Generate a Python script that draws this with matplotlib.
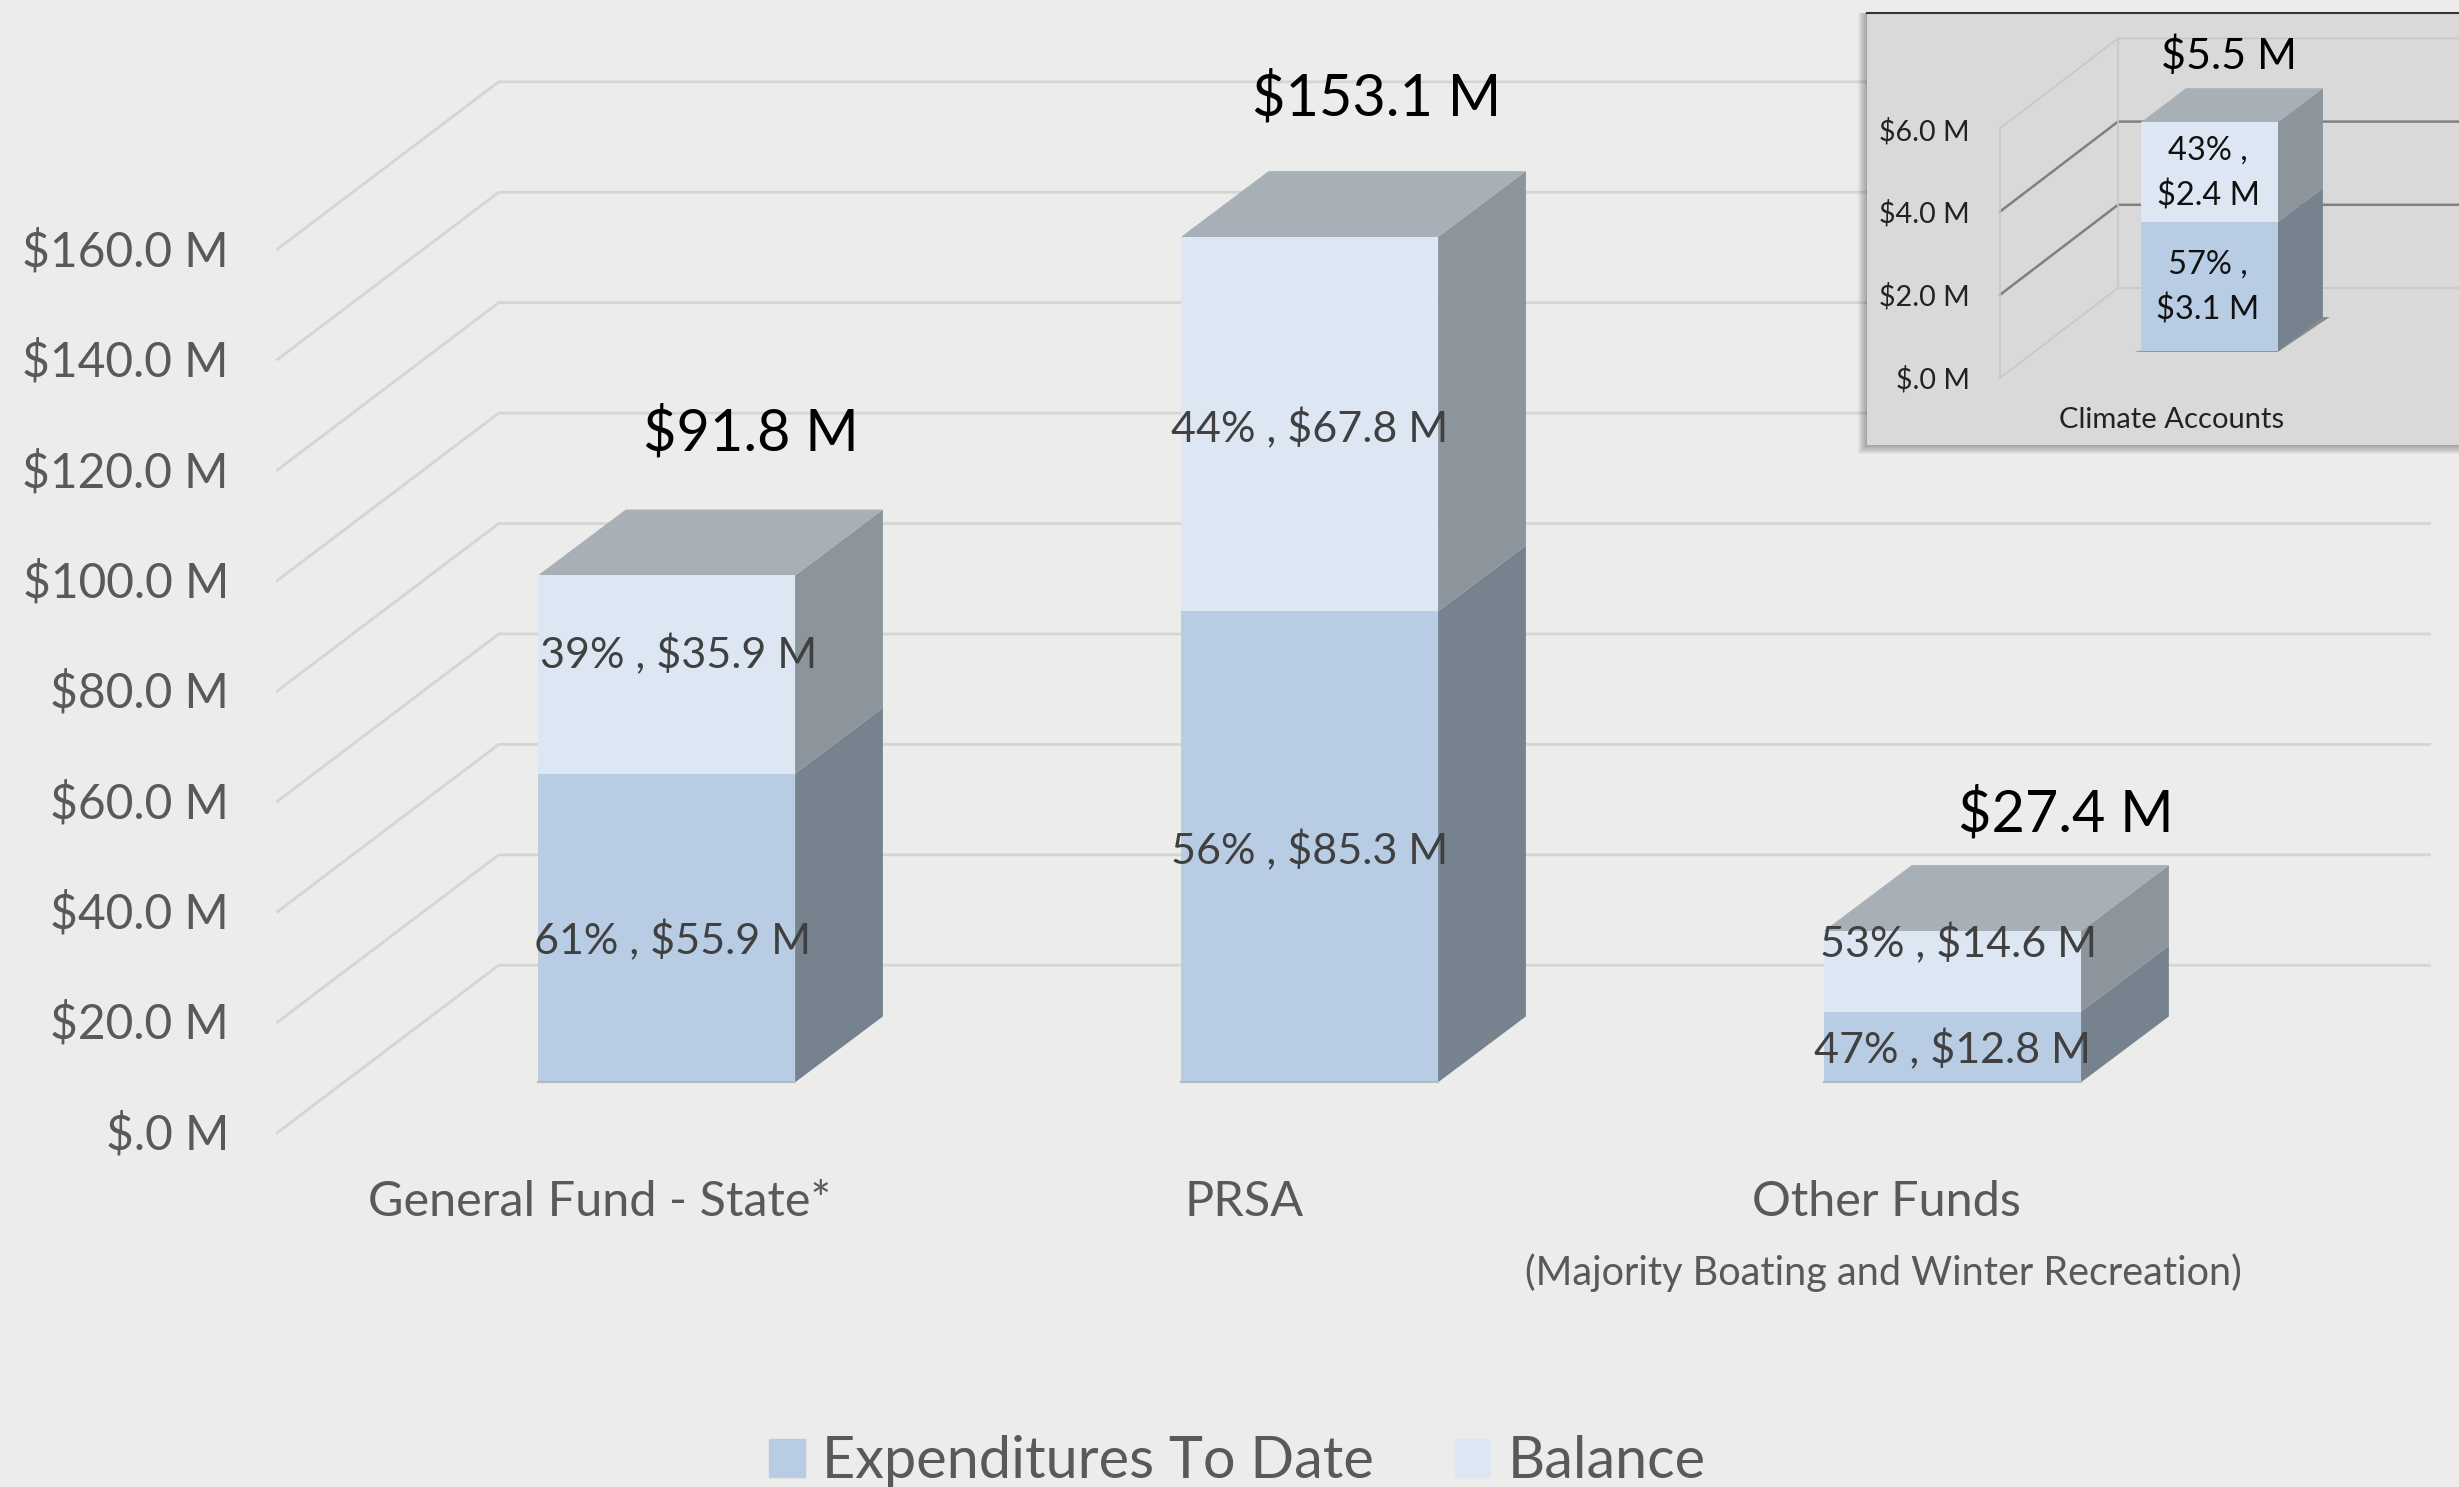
import matplotlib
matplotlib.use('Agg')
import matplotlib.pyplot as plt
from matplotlib.patches import Rectangle, Patch

W, H = 2459, 1487
S = W / 1568.0

categories = ['General Fund - State*', 'PRSA', 'Other Funds']
subcategory = '(Majority Boating and Winter Recreation)'
spent = [55.9, 85.3, 12.8]
balance = [35.9, 67.8, 14.6]
spent_pct = [61, 56, 47]
balance_pct = [39, 44, 53]
totals = [91.8, 153.1, 27.4]
ticks = [0, 20, 40, 60, 80, 100, 120, 140, 160]

climate_name = 'Climate Accounts'
climate_spent = [3.1]
climate_balance = [2.4]
climate_spent_pct = [57]
climate_balance_pct = [43]
climate_total = [5.5]
climate_ticks = [0, 2, 4, 6]

legend_names = ['Expenditures To Date', 'Balance']

BG = '#ECECEA'
C_SPENT, C_BAL = '#B8CCE4', '#DDE7F3'
C_SIDE1, C_SIDE2, C_TOP = '#76838F', '#8C949C', '#A7AFB7'

plt.rc('font', family='Lato')
fig = plt.figure(figsize=(W / 100, H / 100), dpi=100, facecolor=BG)


def txt(x, y, s, size, color='#595959', ha='center', **kw):
    return fig.text(x * S / W, 1 - (y + 1.5) * S / H, s, fontsize=size, color=color,
                    ha=ha, va='center', **kw)


def draw_bar(ax, x, low, high, width, dx, dy, front, side, zorder=3):
    ax.bar(x, high - low, width, bottom=low, color=front, zorder=zorder + 1,
           linewidth=0)
    r = x + width / 2
    ax.fill([r, r + dx, r + dx, r], [low, low + dy, high + dy, high],
            color=side, lw=0, zorder=zorder)


def draw_top(ax, x, top, width, dx, dy, zorder=3):
    l, r = x - width / 2, x + width / 2
    ax.fill([l, r, r + dx, l + dx], [top, top, top + dy, top + dy],
            color=C_TOP, lw=0, zorder=zorder)


# Main chart, one x unit = spacing between bars
ax = fig.add_axes([0, 0, 1, 1])
ax.set_xlim(-425 / 410, (1568 - 425) / 410)
ax.set_ylim(-(948 - 690) / 3.52, 690 / 3.52)
ax.axis('off')

bar_w = 0.4
bar_dx = 56 / 410
bar_dy = 42 / 3.52
wall_l, wall_b, wall_r = -0.605, -0.261, 2.742
wall_front0, wall_back0 = -9.09, 21.2

for t in ticks:
    ax.plot([wall_l, wall_b, wall_r], [wall_front0 + t, wall_back0 + t, wall_back0 + t],
            color='#D5D5D3', lw=2.0, zorder=1, solid_joinstyle='miter')

for i in range(len(categories)):
    draw_bar(ax, i, 0, spent[i], bar_w, bar_dx, bar_dy, C_SPENT, C_SIDE1)
    draw_bar(ax, i, spent[i], spent[i] + balance[i], bar_w, bar_dx, bar_dy, C_BAL, C_SIDE2)
    draw_top(ax, i, spent[i] + balance[i], bar_w, bar_dx, bar_dy)
    ax.plot([i - bar_w / 2, i + bar_w / 2], [0, 0], color='#B5BAC0', lw=1.5, zorder=5)

for t, y in zip(ticks, [722, 651, 581, 511, 440, 370, 300, 229, 159]):
    txt(146, y, f'${t:.1f} M' if t else '$.0 M', 34.5, ha='right')

for name, x in zip(categories, [382, 793, 1203]):
    txt(x, 765, name, 35)
txt(1201, 810, subcategory, 28.5)

for v, x, y in zip(totals, [479, 878, 1317], [275, 61, 518]):
    txt(x, y, f'${v:.1f} M', 41.5, color='black', zorder=8)

for p, v, x, y in zip(spent_pct, spent, [429, 835, 1245], [598, 541, 668]):
    txt(x, y, f'{p}% , ${v:.1f} M', 31, color='#404040')
for p, v, x, y in zip(balance_pct, balance, [433, 835, 1249], [416, 272, 600]):
    txt(x, y, f'{p}% , ${v:.1f} M', 31, color='#404040')

handles = [Patch(color=C_SPENT), Patch(color=C_BAL)]
fig.legend(handles, legend_names, loc='center', bbox_to_anchor=(789 / 1568, 1 - 932 / 948),
           ncol=2, frameon=False, fontsize=41.5, labelcolor='#595959', handlelength=0.62,
           handleheight=0.62, handletextpad=0.3, columnspacing=1.4)

# Inset panel with drop shadow, to the left and below only
ins_l, ins_t, ins_b = 1867, 13, 445
for k in range(9, 0, -1):
    fig.patches.append(Rectangle(((ins_l - k) / W, 1 - (ins_b + k) / H),
                                 (W - ins_l + k) / W, (ins_b - ins_t + k) / H,
                                 transform=fig.transFigure, color='black', alpha=0.035, lw=0,
                                 zorder=9))
ax2 = fig.add_axes([ins_l / W, 1 - ins_b / H, (W - ins_l) / W, (ins_b - ins_t) / H], zorder=10)
ax2.set_facecolor('#D9D9D9')
ax2.set_xlim((ins_l - 2209.5) / 228, (W - 2209.5) / 228)
ax2.set_ylim(-(ins_b - 351) / 41.6, (351 - ins_t) / 41.6)
ax2.set_xticks([])
ax2.set_yticks([])
for sp in ax2.spines.values():
    sp.set_visible(False)
ax2.spines['top'].set_visible(True)
ax2.spines['top'].set_color('#333333')
ax2.spines['top'].set_linewidth(1.5)

iw = 0.6
idx, idy = 45 / 228, 34 / 41.6
w_l, w_b = (2000 - 2209.5) / 228, (2118 - 2209.5) / 228
w_f0, w_b0 = -(378 - 351) / 41.6, (351 - 288) / 41.6
w_r = ax2.get_xlim()[1]
for t in climate_ticks:
    c, lw = ('#808080', 1.8) if t in (2, 4) else ('#C8C8C8', 1.2)
    ax2.plot([w_l, w_b, w_r], [w_f0 + t, w_b0 + t, w_b0 + t], color=c, lw=lw, zorder=1)
top_t = climate_ticks[-1]
ax2.plot([w_l, w_l], [w_f0, w_f0 + top_t], color='#C8C8C8', lw=1.2, zorder=1)
ax2.plot([w_b, w_b], [w_b0, w_b0 + top_t], color='#C8C8C8', lw=1.2, zorder=1)

# floor shadow under the inset bar
ax2.fill([-iw / 2 - 0.03, iw / 2, iw / 2 + idx + 0.03, iw / 2 + idx],
         [-0.02, -0.02, idy, idy], color='#8A8A8A', lw=0, zorder=2)
draw_bar(ax2, 0, 0, climate_spent[0], iw, idx, idy, C_SPENT, C_SIDE1)
draw_bar(ax2, 0, climate_spent[0], climate_spent[0] + climate_balance[0], iw, idx, idy, C_BAL, C_SIDE2)
draw_top(ax2, 0, climate_spent[0] + climate_balance[0], iw, idx, idy)

for t, y in zip(climate_ticks, [240.5, 187.5, 135, 82.5]):
    txt(1256, y, f'${t:.1f} M' if t else '$.0 M', 20.7, color='#222222', ha='right', zorder=20)
txt(1385, 266, climate_name, 21, color='#222222', zorder=20)
txt(1421, 34, f'${climate_total[0]:.1f} M', 31, color='black', zorder=20)
txt(1408, 109, f'{climate_balance_pct[0]}% ,\n${climate_balance[0]:.1f} M', 23.5,
    color='#111111', zorder=20, linespacing=1.6)
txt(1408, 182, f'{climate_spent_pct[0]}% ,\n${climate_spent[0]:.1f} M', 23.5,
    color='#111111', zorder=20, linespacing=1.6)

plt.savefig('out.png', dpi=100, facecolor=BG)
